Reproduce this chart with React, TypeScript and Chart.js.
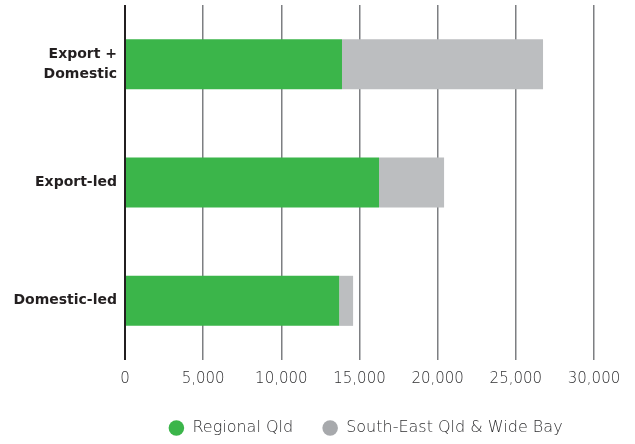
import React, { useEffect, useRef } from "react";
import { Chart, registerables } from "chart.js";

Chart.register(...registerables);

const categories: (string | string[])[] = [["Export +", "Domestic"], "Export-led", "Domestic-led"];
const regionalQld = [13880, 16250, 13700];
const southEastQld = [12860, 4160, 890];
const seriesLabels = ["Regional Qld", "South-East Qld & Wide Bay"];
const seriesColors = ["#3bb54a", "#bcbec0"];
const legendColors = ["#3bb54a", "#a7a9ac"];
const xMin = 0;
const xMax = 30000;
const xStep = 5000;

const FONT = "'DejaVu Sans', sans-serif";

export default function App() {
  const ref = useRef<HTMLCanvasElement | null>(null);

  useEffect(() => {
    if (!ref.current) return;
    const shiftLegend = {
      id: "shiftLegend",
      afterLayout(chart: any) {
        const lg = chart.legend;
        if (lg) {
          lg.left += 6;
          lg.right += 6;
        }
      },
    };
    const chart = new Chart(ref.current, {
      type: "bar",
      data: {
        labels: categories as any,
        datasets: [
          {
            label: seriesLabels[0],
            data: regionalQld,
            backgroundColor: seriesColors[0],
            borderWidth: 0,
          },
          {
            label: seriesLabels[1],
            data: southEastQld,
            backgroundColor: seriesColors[1],
            borderWidth: 0,
          },
        ],
      },
      plugins: [shiftLegend],
      options: {
        indexAxis: "y",
        responsive: false,
        animation: false,
        maintainAspectRatio: false,
        layout: { padding: { top: 5, right: 41, left: 0, bottom: 0 } },
        datasets: {
          bar: { barPercentage: 0.423, categoryPercentage: 1 },
        },
        scales: {
          x: {
            stacked: true,
            min: xMin,
            max: xMax,
            border: { display: false },
            grid: {
              drawTicks: false,
              color: (ctx: any) => (ctx.tick && ctx.tick.value === 0 ? "#231f20" : "#7d7f82"),
              lineWidth: (ctx: any) => (ctx.tick && ctx.tick.value === 0 ? 2 : 1.5),
            },
            ticks: {
              stepSize: xStep,
              padding: 10,
              color: "#2f2f31",
              font: { family: FONT, size: 15, weight: "300" as any },
              callback: (v: any) => Number(v).toLocaleString("en-US"),
            },
            afterFit: (scale: any) => {
              scale.height = 31;
              scale.paddingLeft = 0;
              scale.paddingRight = 0;
            },
          },
          y: {
            stacked: true,
            border: { display: false },
            grid: { display: false, drawTicks: false },
            ticks: {
              padding: 8,
              color: "#231f20",
              font: { family: FONT, size: 14, weight: "bold", lineHeight: 1.45 },
            },
            afterFit: (scale: any) => {
              scale.width = 125;
              scale.paddingTop = 0;
              scale.paddingBottom = 0;
            },
          },
        },
        plugins: {
          legend: {
            position: "bottom",
            fullSize: false,
            maxHeight: 53,
            labels: {
              usePointStyle: true,
              pointStyle: "circle",
              boxHeight: 11,
              boxWidth: 20,
              padding: 29,
              color: "#2f2f31",
              font: { family: FONT, size: 16, weight: "300" as any },
              generateLabels: (c: any) => {
                const items = Chart.defaults.plugins.legend.labels.generateLabels(c);
                return items.map((it: any, i: number) => ({
                  ...it,
                  fillStyle: legendColors[i],
                  strokeStyle: legendColors[i],
                  lineWidth: 0,
                }));
              },
            },
          },
          tooltip: { enabled: false },
        },
      },
    });
    return () => chart.destroy();
  }, []);

  return (
    <div style={{ position: "absolute", left: 0, top: 0, width: 635, height: 444, background: "#fff" }}>
      <canvas ref={ref} width={635} height={444} style={{ width: 635, height: 444, display: "block" }} />
    </div>
  );
}
